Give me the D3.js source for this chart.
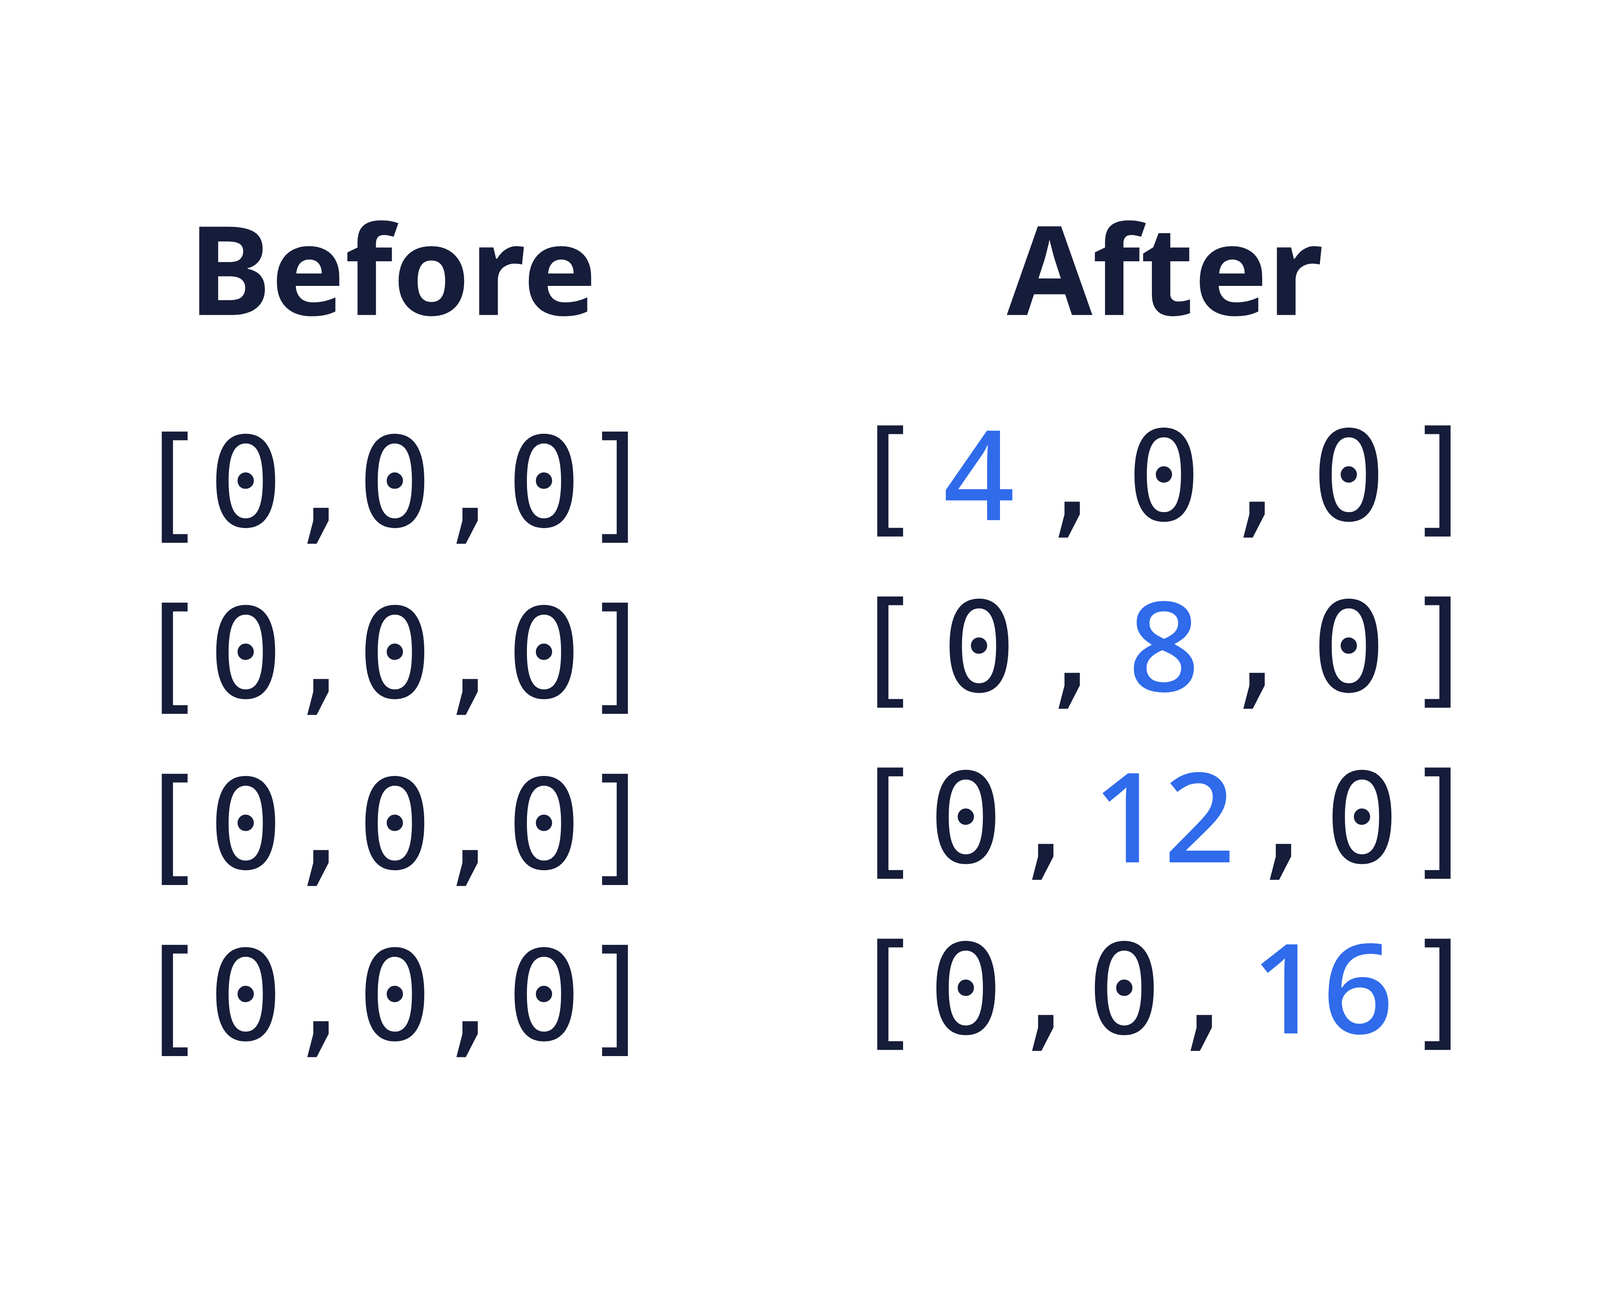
<!DOCTYPE html>
<html><head><meta charset="utf-8">
<script src="https://cdn.jsdelivr.net/npm/d3@7"></script>
<style>html,body{margin:0;padding:0;background:#fff;overflow:hidden;width:100%;height:100%}svg{display:block}</style>
</head><body>
<script>
const titles = ["Before", "After"];
const beforeRows = [["[","0",",","0",",","0","]"],["[","0",",","0",",","0","]"],["[","0",",","0",",","0","]"],["[","0",",","0",",","0","]"]];
const afterRows = [["[","4",",","0",",","0","]"],["[","0",",","8",",","0","]"],["[","0",",","12",",","0","]"],["[","0",",","0",",","16","]"]];
const highlight = [[1],[3],[3],[5]];

const W = 1552, H = 1009;
const navy = "#161d3a", blue = "#2f6beb";
const svg = d3.select("body").append("svg").attr("width","100vw").attr("height","100vh")
  .attr("viewBox",`0 0 ${W} ${H}`).attr("preserveAspectRatio","xMidYMid meet");
svg.append("rect").attr("width",W).attr("height",H).attr("fill","#fff");

const mono = "'DejaVu Sans Mono', monospace";
const fs = 121;

svg.selectAll("text.title").data(titles).join("text")
  .attr("x",(d,i)=>[381,1130][i]).attr("y",180)
  .attr("text-anchor","middle").attr("font-family","'Noto Sans','Open Sans',sans-serif")
  .attr("font-weight",700).attr("font-size",120).attr("fill",navy).text(d=>d);

const yL = d3.scaleLinear().domain([0,3]).range([385,883]);
const yR = d3.scaleLinear().domain([0,3]).range([379,877]);

// Left: fixed spacing
const xL = d3.scaleLinear().domain([0,6]).range([166,600]);
beforeRows.forEach((row,r)=>{
  svg.append("g").selectAll("text").data(row).join("text")
    .attr("x",(d,i)=>xL(i)).attr("y",yL(r)).attr("text-anchor","middle")
    .attr("font-family",mono).attr("font-size",fs).attr("fill",navy).text(d=>d);
});

// Right: justified by token width units
afterRows.forEach((row,r)=>{
  const units = row.map(t=>t.length);
  const centers=[]; let acc=0;
  units.forEach((u,i)=>{ if(i===0){centers.push(0);acc=u/2;} else {acc+=u/2; centers.push(acc); acc+=u/2;} });
  const xR = d3.scaleLinear().domain([0,centers[centers.length-1]]).range([860,1398]);
  svg.append("g").selectAll("text").data(row).join("text")
    .attr("x",(d,i)=>xR(centers[i])).attr("y",yR(r)).attr("text-anchor","middle")
    .attr("font-family",(d,i)=>highlight[r].includes(i)?"'Noto Sans',sans-serif":mono)
    .attr("font-weight",(d,i)=>highlight[r].includes(i)?500:400)
    .attr("font-size",fs)
    .attr("fill",(d,i)=>highlight[r].includes(i)?blue:navy).text(d=>d);
});
</script>
</body></html>
